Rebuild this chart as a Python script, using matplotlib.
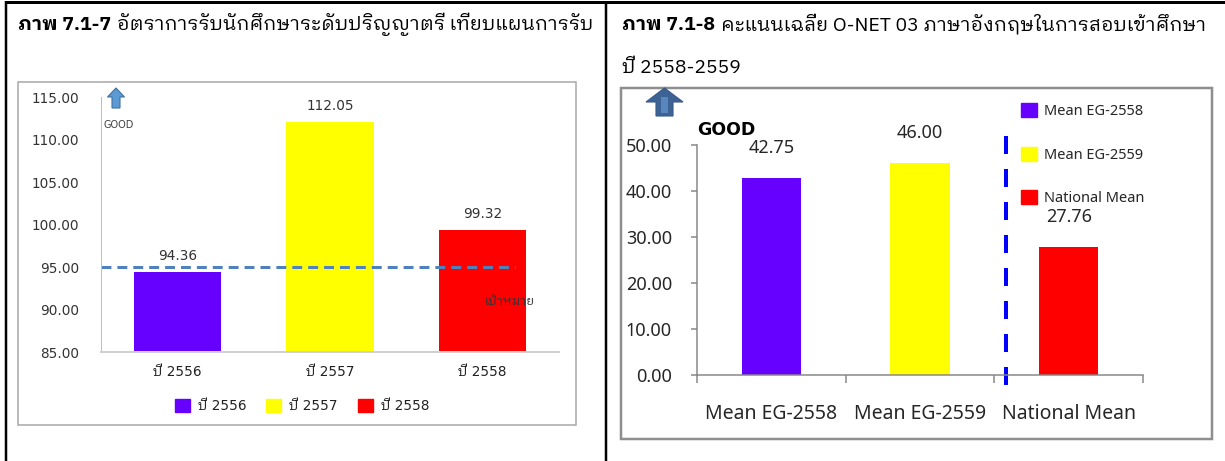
import numpy as np
import matplotlib
matplotlib.use("Agg")
import matplotlib.pyplot as plt
from matplotlib import font_manager
from matplotlib.ft2font import FT2Font
from matplotlib.patches import Rectangle, Polygon, Patch

# ---------------- data ----------------
left_categories = ["ปี 2556", "ปี 2557", "ปี 2558"]
left_values = [94.36, 112.05, 99.32]
left_target = 95.00
left_yticks = [85, 90, 95, 100, 105, 110, 115]

right_categories = ["Mean EG-2558", "Mean EG-2559", "National Mean"]
right_values = [42.75, 46.00, 27.76]
right_yticks = [0, 10, 20, 30, 40, 50]

bar_colors = ["#6600FF", "#FFFF00", "#FF0000"]

left_title_bold = "ภาพ 7.1-7"
left_title_rest = "อัตราการรับนักศึกษาระดับปริญญาตรี เทียบแผนการรับ"
right_title_bold = "ภาพ 7.1-8"
right_title_rest = "คะแนนเฉลี่ย O-NET 03 ภาษาอังกฤษในการสอบเข้าศึกษา"
right_title_line2 = "ปี 2558-2559"
target_label = "เป้าหมาย"
good_label = "GOOD"


# ---------------- fonts ----------------
def thai_families():
    found = []
    for entry in font_manager.fontManager.ttflist:
        if entry.name in found:
            continue
        try:
            cmap = FT2Font(entry.fname).get_charmap()
        except Exception:
            continue
        if all(cp in cmap for cp in (0x0E20, 0x0E1B, 0x0E35, 0x0E49)):
            found.append(entry.name)
    def rank(name):
        n = name.lower()
        return (("serif" in n and "sans" not in n), "mono" in n,
                "looped" not in n, "ui" in n, name)
    return sorted(found, key=rank)


_thai = thai_families()
THAI = _thai[:1]
LEFT_FONT = ["DejaVu Sans"] + THAI
RIGHT_FONT = ["Noto Sans"] + THAI + ["DejaVu Sans"]
TITLE_FONT = THAI + ["Noto Sans", "DejaVu Sans"]

# ---------------- figure ----------------
W, H, DPI = 1225, 461, 100
PT = 72.0 / DPI
fig = plt.figure(figsize=(W / DPI, H / DPI), dpi=DPI)
fig.patch.set_facecolor("white")


def px_rect(x0, y0, x1, y1):
    return [x0 / W, 1 - y1 / H, (x1 - x0) / W, (y1 - y0) / H]


# page layer in pixel coordinates (table lines, frames, titles, arrows)
ov = fig.add_axes([0, 0, 1, 1], zorder=0)
ov.set_xlim(0, W)
ov.set_ylim(H, 0)
ov.axis("off")

ov.plot([5, W], [2.5, 2.5], color="black", lw=3 * PT, solid_capstyle="butt")
ov.plot([6, 6], [1, H], color="black", lw=2.5 * PT, solid_capstyle="butt")
ov.plot([606, 606], [1, H], color="black", lw=2.5 * PT, solid_capstyle="butt")

ov.add_patch(Rectangle((18, 82), 558, 343, fill=False, ec="#A6A6A6", lw=1.5 * PT))
ov.add_patch(Rectangle((621, 88), 591, 351, fill=False, ec="#8E8E8E", lw=2.5 * PT))

TITLE_SIZE = 14


def title(x, y, bold, rest, size=TITLE_SIZE):
    t = ov.text(x, y, bold, fontsize=size, weight="bold", va="baseline",
                family=TITLE_FONT, color="black")
    fig.canvas.draw()
    bb = t.get_window_extent()
    ov.text(bb.x1 + 6, y, rest, fontsize=size, va="baseline",
            family=TITLE_FONT, color="black")


title(18, 30, left_title_bold, left_title_rest)
title(622, 30, right_title_bold, right_title_rest)
ov.text(622, 73, right_title_line2, fontsize=TITLE_SIZE, va="baseline",
        family=TITLE_FONT, color="black")

# "GOOD" arrows
ov.add_patch(Polygon([(116, 88), (124.5, 97), (120, 97), (120, 108),
                      (112, 108), (112, 97), (107.5, 97)],
                     closed=True, fc="#5B9BD5", ec="#41719C", lw=0.8))
ov.text(104, 125, good_label, fontsize=7, color="#404040", va="center",
        family=LEFT_FONT)

ov.add_patch(Polygon([(664.5, 88), (683, 102), (673, 102), (673, 116),
                      (656, 116), (656, 102), (646, 102)],
                     closed=True, fc="#3C6394", ec="#35598A", lw=0.8))
ov.add_patch(Rectangle((661, 97), 7, 16, fc="#5A86BE", ec="none"))
ov.text(697, 130, good_label, fontsize=12.5, weight="bold", color="black",
        va="center", family=["DejaVu Sans"])

# ---------------- left chart ----------------
axL = fig.add_axes(px_rect(101, 97, 559, 352), zorder=2)
axL.patch.set_alpha(0)
xl = np.arange(len(left_values))
axL.bar(xl, left_values, width=0.57, color=bar_colors)
axL.set_xlim(-0.5, 2.5)
axL.set_ylim(left_yticks[0], left_yticks[-1])
axL.set_yticks(left_yticks)
axL.set_yticklabels([f"{v:.2f}" for v in left_yticks], family=LEFT_FONT)
axL.set_xticks(xl)
axL.set_xticklabels(left_categories, family=LEFT_FONT)
axL.tick_params(axis="y", length=0, pad=16, labelsize=9.8, labelcolor="#333333")
axL.tick_params(axis="x", length=0, pad=9.5, labelsize=9.8, labelcolor="#222222")
for s in ("top", "right"):
    axL.spines[s].set_visible(False)
axL.spines["left"].set_color("#BFBFBF")
axL.spines["left"].set_linewidth(1 * PT)
axL.spines["bottom"].set_color("#D0D0D0")
axL.spines["bottom"].set_linewidth(2 * PT)

for i, v in zip(xl, left_values):
    axL.annotate(f"{v:.2f}", (i, v), xytext=(0, 16 * PT), textcoords="offset points",
                 ha="center", va="center", fontsize=9.8, color="#333333",
                 family=LEFT_FONT)

axL.plot([-0.5, 2.21], [left_target, left_target], color="#4F81BD",
         lw=3 * PT, dashes=(3.3, 2.0), clip_on=False)
axL.text(2.175, 91.0, target_label, ha="center", va="center", fontsize=9,
         color="#333333", family=TITLE_FONT)

fig.legend(handles=[Patch(color=c) for c in bar_colors], labels=left_categories,
           loc="center", bbox_to_anchor=(302 / W, 1 - 406 / H), ncol=3,
           frameon=False, handlelength=1.1, handleheight=1.1,
           handletextpad=0.6, columnspacing=1.45,
           prop={"family": LEFT_FONT, "size": 9.8}, labelcolor="#222222")

# ---------------- right chart ----------------
axR = fig.add_axes(px_rect(697, 145, 1143, 375), zorder=2)
axR.patch.set_alpha(0)
xr = np.arange(len(right_values))
axR.bar(xr, right_values, width=0.4, color=bar_colors)
axR.set_xlim(-0.5, 2.5)
axR.set_ylim(right_yticks[0], right_yticks[-1])
axR.set_yticks(right_yticks)
axR.set_yticklabels([f"{v:.2f}" for v in right_yticks], family=RIGHT_FONT)
axR.set_xticks(xr)
axR.set_xticklabels(right_categories, family=RIGHT_FONT)
axR.set_xticks([-0.5, 0.5, 1.5, 2.5], minor=True)
axR.tick_params(axis="y", length=6 * PT, width=1.5 * PT, color="#868686",
                pad=19 * PT, labelsize=13, labelcolor="#262626")
axR.tick_params(axis="x", which="major", length=0, pad=21, labelsize=14,
                labelcolor="#262626")
axR.tick_params(axis="x", which="minor", length=8 * PT, width=1.5 * PT,
                color="#868686")
for s in ("top", "right"):
    axR.spines[s].set_visible(False)
for s in ("left", "bottom"):
    axR.spines[s].set_color("#868686")
    axR.spines[s].set_linewidth(1.5 * PT)

for i, v in zip(xr, right_values):
    axR.annotate(f"{v:.2f}", (i, v), xytext=(0, 30 * PT), textcoords="offset points",
                 ha="center", va="center", fontsize=13, color="#262626",
                 family=RIGHT_FONT)

axR.plot([1.578, 1.578], [51.96, -3.26], color="#0000FF", lw=4 * PT,
         dashes=(4.5, 3.75), clip_on=False)

fig.legend(handles=[Patch(color=c) for c in bar_colors], labels=right_categories,
           loc="upper left", bbox_to_anchor=(1021 / W, 1 - 103 / H),
           frameon=False, handlelength=1.1, handleheight=1.1, labelspacing=1.9,
           handletextpad=0.45, borderpad=0, borderaxespad=0,
           prop={"family": RIGHT_FONT, "size": 10.5}, labelcolor="#262626")

fig.savefig("out.png", dpi=DPI, facecolor="white")
